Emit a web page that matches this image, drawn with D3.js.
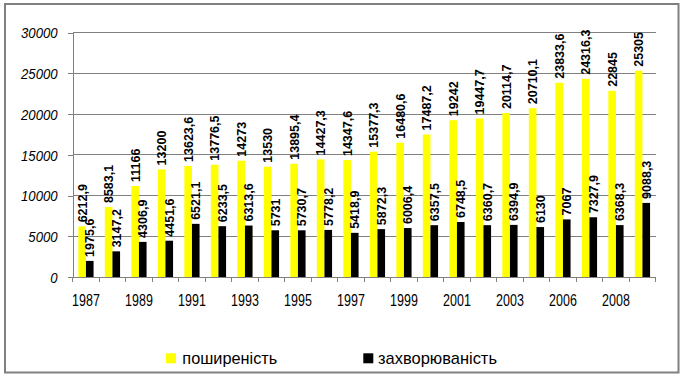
<!DOCTYPE html>
<html><head><meta charset="utf-8">
<script src="https://cdn.jsdelivr.net/npm/d3@7"></script>
<style>
html,body{margin:0;padding:0;background:#fff;}
svg{display:block;font-family:Arial,"Liberation Sans",sans-serif;}
</style></head>
<body>
<svg id="chart" width="684" height="378"></svg>
<script>
const years = ["1987","1988","1989","1990","1991","1992","1993","1994","1995","1996","1997","1998","1999","2000","2001","2002","2003","2005","2006","2007","2008","2009"];
const tickLabels = ["1987","1989","1991","1993","1995","1997","1999","2001","2003","2006","2008"];
const prevalence = [6212.9,8583.1,11166,13200,13623.6,13776.5,14273,13530,13895.4,14427.3,14347.6,15377.3,16480.6,17487.2,19242,19447.7,20114.7,20710.1,23833.6,24316.3,22845,25305];
const incidence = [1975.6,3147.2,4306.9,4451.6,6521.1,6233.5,6313.6,5731,5730.7,5778.2,5418.9,5872.3,6006.4,6357.5,6748.5,6360.7,6394.9,6130,7067,7327.9,6368.3,9088.3];
const seriesNames = ["поширеність","захворюваність"];
const seriesColors = ["#ffff00","#000000"];
const yTicks = [0,5000,10000,15000,20000,25000,30000];

const svg = d3.select("#chart");
const L = 72.7, R = 655.7, T = 32.5, B = 277;
const x = d3.scaleBand().domain(years).range([L, R]).padding(0);
const xs = d3.scaleBand().domain([0,1]).range([0, x.bandwidth()]).paddingInner(0).paddingOuter(0.74);
const y = d3.scaleLinear().domain([0,30000]).range([B, T]);
const grid = "#808080";

// border
svg.append("rect").attr("x",5).attr("y",4).attr("width",673.5).attr("height",368.5)
  .attr("fill","none").attr("stroke",grid).attr("stroke-width",2);

// gridlines
svg.append("g").selectAll("line").data(yTicks.filter(d=>d>0)).join("line")
  .attr("x1",L).attr("x2",R).attr("y1",d=>y(d)).attr("y2",d=>y(d))
  .attr("stroke",grid).attr("stroke-width",1).attr("shape-rendering","crispEdges");

// y axis
const ya = svg.append("g").attr("transform",`translate(${L},0)`)
  .call(d3.axisLeft(y).tickValues(yTicks).tickSize(5).tickPadding(10).tickFormat(d3.format("d")));
ya.select(".domain").attr("stroke",grid).attr("shape-rendering","crispEdges");
ya.selectAll(".tick line").attr("stroke",grid).attr("shape-rendering","crispEdges");
ya.selectAll(".tick text").attr("font-size",15).attr("font-style","italic").attr("fill","#000")
  .attr("font-family","Arial,'Liberation Sans',sans-serif")
  .attr("dy","0.36em")
  .each(function(){
    const t=d3.select(this); const xx=+t.attr("x");
    t.attr("x",null).attr("transform",`translate(${xx},0) scale(0.88,1)`);
  });

// x axis
const xa = svg.append("g").attr("transform",`translate(0,${B})`)
  .call(d3.axisBottom(x).tickSize(0).tickFormat(d=>tickLabels.includes(d)?d:""));
xa.select(".domain").attr("stroke",grid).attr("shape-rendering","crispEdges");
xa.selectAll(".tick text").attr("font-size",16).attr("fill","#000")
  .attr("font-family","Arial,'Liberation Sans',sans-serif")
  .attr("y",null).attr("dy",null)
  .attr("transform","translate(0,29) scale(0.78,1)");
// band boundary ticks
const bounds = years.map(d=>x(d)).concat([R]);
svg.append("g").selectAll("line").data(bounds).join("line")
  .attr("x1",d=>d).attr("x2",d=>d).attr("y1",B).attr("y2",B+5)
  .attr("stroke",grid).attr("shape-rendering","crispEdges");

// bars
const series = [prevalence, incidence];
const fmt = v => String(v).replace(".",",");
series.forEach((vals,si)=>{
  const g = svg.append("g");
  g.selectAll("rect").data(vals).join("rect")
    .attr("x",(d,i)=>x(years[i])+xs(si))
    .attr("width",xs.bandwidth())
    .attr("y",d=>y(d)).attr("height",d=>B-y(d))
    .attr("fill",seriesColors[si]);
});
series.forEach((vals,si)=>{
  const g = svg.append("g");
  g.selectAll("text").data(vals).join("text")
    .attr("transform",(d,i)=>`translate(${x(years[i])+xs(si)+xs.bandwidth()/2},${y(d)-4}) rotate(-90)`)
    .attr("dy","0.36em")
    .attr("font-size",12.5).attr("font-weight","bold").attr("fill","#000")
    .text(d=>fmt(d));
});

// legend
const legX = [166, 363.3], legW = [95, 119], legTX = [182.3, 378];
seriesNames.forEach((n,i)=>{
  svg.append("rect").attr("x",legX[i]).attr("y",353.3).attr("width",10).attr("height",10)
    .attr("fill",seriesColors[i]);
  svg.append("text").attr("x",legTX[i]).attr("y",364.3).attr("font-size",17)
    .attr("textLength",legW[i]).attr("lengthAdjust","spacingAndGlyphs")
    .attr("fill","#000").text(n);
});
</script>
</body></html>
